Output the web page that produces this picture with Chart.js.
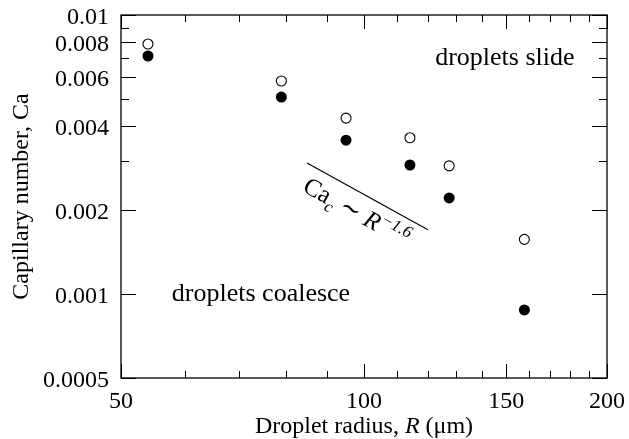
<!DOCTYPE html>
<html>
<head>
<meta charset="utf-8">
<script src="https://cdn.jsdelivr.net/npm/chart.js@4"></script>
<style>
  body { margin: 0; background: #fff; }
  #wrap { width: 629px; height: 439px; }
</style>
</head>
<body>
<div id="wrap"><canvas id="chart"></canvas></div>
<script>
// droplet radius R (um) and capillary numbers
const radius = [54, 79, 95, 114, 127.5, 158];
const caSlide = [0.00787, 0.0058, 0.00427, 0.00363, 0.00288, 0.00157];
const caCoalesce = [0.00713, 0.00508, 0.00356, 0.0029, 0.00221, 0.000877];

// guide line Ca_c ~ R^-1.6
const fitR = [85, 120];
const fitCa = [0.00295, 0.0017];

const xMajor = [50, 100, 150, 200];
const xMinor = [60, 70, 80, 90, 110, 120, 130, 140, 160, 170, 180, 190];
const yMajor = [0.0005, 0.001, 0.002, 0.004, 0.006, 0.008, 0.01];
const yMinor = [0.003, 0.005, 0.007, 0.009];
const yLabels = ['0.0005', '0.001', '0.002', '0.004', '0.006', '0.008', '0.01'];

const SERIF = "'Liberation Serif', 'DejaVu Serif', serif";

const toPts = (xs, ys) => xs.map((x, i) => ({ x: x, y: ys[i] }));

// inward ticks on all four sides, frame, and the text annotations
const decor = {
  id: 'decor',
  afterDraw(chart) {
    const ctx = chart.ctx;
    const a = chart.chartArea;
    const xs = chart.scales.x, ys = chart.scales.y;
    ctx.save();
    ctx.strokeStyle = '#000';
    ctx.lineWidth = 1.3;
    ctx.strokeRect(a.left, a.top, a.right - a.left, a.bottom - a.top);
    ctx.lineWidth = 1;
    ctx.beginPath();
    const xt = (v, len) => {
      const p = Math.round(xs.getPixelForValue(v)) + 0.5;
      ctx.moveTo(p, a.bottom); ctx.lineTo(p, a.bottom - len);
      ctx.moveTo(p, a.top); ctx.lineTo(p, a.top + len);
    };
    const yt = (v, len) => {
      const p = Math.round(ys.getPixelForValue(v)) + 0.5;
      ctx.moveTo(a.left, p); ctx.lineTo(a.left + len, p);
      ctx.moveTo(a.right, p); ctx.lineTo(a.right - len, p);
    };
    xMajor.forEach(v => xt(v, 14));
    xMinor.forEach(v => xt(v, 7));
    yMajor.forEach(v => yt(v, 15));
    yMinor.forEach(v => yt(v, 8));
    ctx.stroke();

    ctx.fillStyle = '#000';
    ctx.font = '26px ' + SERIF;
    ctx.textBaseline = 'middle';
    ctx.textAlign = 'left';
    ctx.fillText('droplets slide', xs.getPixelForValue(122.5), ys.getPixelForValue(0.0070));
    ctx.fillText('droplets coalesce', xs.getPixelForValue(57.8), ys.getPixelForValue(0.001));

    // rotated label under the guide line
    const x1 = xs.getPixelForValue(fitR[0]), y1 = ys.getPixelForValue(fitCa[0]);
    const x2 = xs.getPixelForValue(fitR[1]), y2 = ys.getPixelForValue(fitCa[1]);
    const ang = Math.atan2(y2 - y1, x2 - x1);
    ctx.save();
    ctx.translate((x1 + x2) / 2, (y1 + y2) / 2);
    ctx.rotate(ang);
    const parts = [
      { t: 'Ca', f: '25px ' + SERIF, dy: 0 },
      { t: 'c', f: 'italic 17px ' + SERIF, dy: 6 },
      { t: ' \u223C ', f: '25px ' + SERIF, dy: 0 },
      { t: 'R', f: 'italic 25px ' + SERIF, dy: 0 },
      { t: '\u22121.6', f: 'italic 17px ' + SERIF, dy: -10 }
    ];
    let w = 0;
    parts.forEach(p => { ctx.font = p.f; p.w = ctx.measureText(p.t).width; w += p.w; });
    let cx = -w / 2 - 2;
    ctx.textBaseline = 'alphabetic';
    parts.forEach(p => { ctx.font = p.f; ctx.fillText(p.t, cx, 27 + p.dy); cx += p.w; });
    ctx.restore();

    // axis titles
    ctx.font = '24px ' + SERIF;
    ctx.textAlign = 'center';
    ctx.textBaseline = 'middle';
    ctx.save();
    ctx.translate(22, (a.top + a.bottom) / 2);
    ctx.rotate(-Math.PI / 2);
    ctx.fillText('Capillary number, Ca', 0, 0);
    ctx.restore();

    const xParts = [
      { t: 'Droplet radius, ', f: '24px ' + SERIF },
      { t: 'R', f: 'italic 24px ' + SERIF },
      { t: ' (\u03BCm)', f: '24px ' + SERIF }
    ];
    w = 0;
    xParts.forEach(p => { ctx.font = p.f; p.w = ctx.measureText(p.t).width; w += p.w; });
    cx = (a.left + a.right) / 2 - w / 2;
    ctx.textAlign = 'left';
    ctx.textBaseline = 'alphabetic';
    xParts.forEach(p => { ctx.font = p.f; ctx.fillText(p.t, cx, 433); cx += p.w; });
    ctx.restore();
  }
};

new Chart(document.getElementById('chart'), {
  type: 'scatter',
  data: {
    datasets: [
      {
        label: 'slide',
        data: toPts(radius, caSlide),
        pointRadius: 5,
        pointBackgroundColor: '#fff',
        pointBorderColor: '#000',
        pointBorderWidth: 1.1
      },
      {
        label: 'coalesce',
        data: toPts(radius, caCoalesce),
        pointRadius: 5.5,
        pointBackgroundColor: '#000',
        pointBorderColor: '#000',
        pointBorderWidth: 0
      },
      {
        label: 'fit',
        data: toPts(fitR, fitCa),
        showLine: true,
        pointRadius: 0,
        borderColor: '#000',
        borderWidth: 1.2
      }
    ]
  },
  options: {
    responsive: true,
    maintainAspectRatio: false,
    animation: false,
    events: [],
    layout: { padding: { top: 15, right: 22, left: 0, bottom: 0 } },
    plugins: { legend: { display: false }, tooltip: { enabled: false } },
    scales: {
      x: {
        type: 'logarithmic',
        min: 50,
        max: 200,
        afterBuildTicks: s => { s.ticks = xMajor.map(v => ({ value: v })); },
        afterFit: s => { s.height = 61; s.paddingLeft = 0; s.paddingRight = 0; },
        grid: { display: false },
        border: { display: false },
        ticks: {
          autoSkip: false,
          maxRotation: 0,
          padding: 1,
          color: '#000',
          font: { family: SERIF, size: 24 },
          callback: v => String(v)
        }
      },
      y: {
        type: 'logarithmic',
        min: 0.0005,
        max: 0.01,
        afterBuildTicks: s => { s.ticks = yMajor.map(v => ({ value: v })); },
        afterFit: s => { s.width = 121; s.paddingTop = 0; s.paddingBottom = 0; },
        grid: { display: false },
        border: { display: false },
        ticks: {
          autoSkip: false,
          padding: 4,
          labelOffset: 3,
          color: '#000',
          font: { family: SERIF, size: 24 },
          callback: v => yLabels[yMajor.indexOf(v)]
        }
      }
    }
  },
  plugins: [decor]
});
</script>
</body>
</html>
